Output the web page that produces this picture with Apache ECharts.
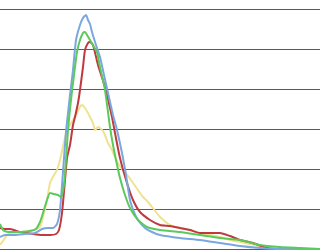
<!DOCTYPE html>
<html><head><meta charset="utf-8">
<script src="https://cdn.jsdelivr.net/npm/echarts@6/dist/echarts.min.js"></script>
<style>html,body{margin:0;padding:0;background:#fff}#c{width:320px;height:251px}</style>
</head><body><div id="c"></div>
<script>
// x positions (channel) and heights (signal)
var blueX = [0,5,15,25,35,42,48,53,57,60,63,66,70,73,76,80,83,86,88,90,92,96,100,104,108,113,117,122,126,130,134,138,145,152,160,180,200,220,240,260,280,320];
var blueY = [237,235,235,234,233,229,228,228,224,210,172,132,95,70,40,25,18,15,20,24,32,45,57,75,93,115,130,153,175,200,212,220,228,232,235,238,240,243,246,248,249,249];

var greenX = [0,3,8,20,30,36,40,43,47,50,54,58,61,64,66,68,71,74,77,80,83,85,87,90,94,97,100,105,110,113,116,120,125,130,138,147,160,180,200,220,240,260,280,300,320];
var greenY = [224,230,232,232,231,229,222,213,200,193,194,195,197,185,160,130,100,75,52,40,33,32,35,40,47,52,67,90,127,145,160,178,195,208,220,227,230,232,235,238,240,245,247,248,249];

var redX = [0,5,10,20,33,42,50,56,59,62,65,67,70,73,75,78,80,83,85,88,90,93,98,105,112,115,120,127,133,140,150,160,170,180,190,200,210,220,230,240,253,267,280,320];
var redY = [228,229,229,232,234,235,235,234,230,213,180,158,145,125,117,103,90,67,50,43,42,45,65,87,117,133,158,183,200,212,220,225,226,228,230,233,233,233,236,240,243,248,249,249];

var yellowX = [0,3,7,12,20,33,40,43,47,50,54,57,60,64,67,70,73,77,80,82,85,88,90,93,95,98,100,103,105,108,112,115,119,123,128,133,138,143,148,152,156,160,170,180,190,200,210,220,230,240,260,280,320];
var yellowY = [245,241,235,233,232,230,227,217,200,183,175,170,160,142,130,125,120,113,107,105,108,113,117,123,130,127,128,131,135,143,150,157,165,170,176,183,190,197,202,207,212,217,225,228,230,233,235,237,240,242,246,248,249];

var BASE = 249; // baseline row
function pts(xs, ys){ return xs.map(function(x,i){ return [x, BASE - ys[i]]; }); }

var chart = echarts.init(document.getElementById('c'), null, {renderer:'canvas'});
function mk(name, xs, ys, color){
  return {name:name, type:'line', data:pts(xs,ys), showSymbol:false, smooth:0.2,
    lineStyle:{color:color, width:2}, itemStyle:{color:color}, animation:false, z:2};
}
chart.setOption({
  animation:false,
  grid:{left:0, right:0, top:9, bottom:2, containLabel:false},
  xAxis:{type:'value', min:0, max:320, show:true, axisLabel:{show:false}, axisTick:{show:false},
    axisLine:{show:false}, splitLine:{show:false}},
  yAxis:{type:'value', min:0, max:240, interval:40, axisLabel:{show:false}, axisTick:{show:false},
    axisLine:{show:false}, splitLine:{show:true, lineStyle:{color:'#5a5a5a', width:1}}},
  series:[
    mk('yellow', yellowX, yellowY, '#f0e28e'),
    mk('red', redX, redY, '#c0393f'),
    mk('blue', blueX, blueY, '#7ba7e0'),
    mk('green', greenX, greenY, '#5cc95c')
  ]
});
</script></body></html>
